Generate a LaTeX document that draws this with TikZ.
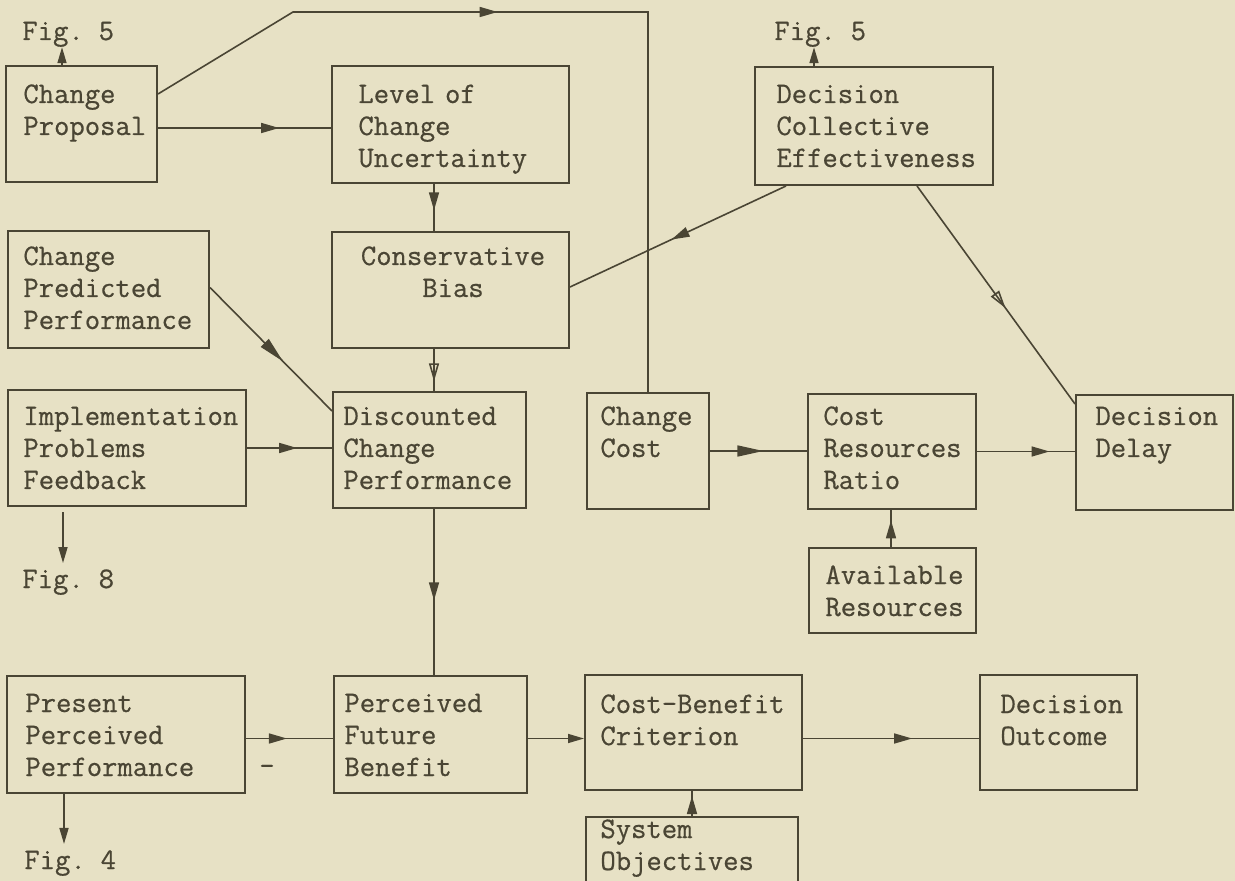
\documentclass[tikz,border=0pt]{standalone}
\usepackage{fontspec}
\newfontfamily\typer{Latin Modern Mono}[FakeBold=0.6]
\usetikzlibrary{arrows.meta,decorations.markings,fit,calc}
\definecolor{paper}{HTML}{E7E1C5}
\definecolor{ink}{HTML}{4A4534}
\tikzset{
  box/.style={draw=ink, line width=1pt, inner sep=0pt},
  lbl/.style={text=ink, font=\typer\fontsize{14.9}{16}\selectfont, inner sep=0pt,
              text width=130pt, align=left, anchor=base west},
  clbl/.style={lbl, align=center, anchor=base},
  wire/.style={draw=ink, color=ink, line width=0.8pt},
  tipat/.style={postaction={decorate,decoration={markings,
      mark=at position #1 with {\arrow{Triangle[length=9pt,width=5pt]}}}}},
  longtipat/.style={postaction={decorate,decoration={markings,
      mark=at position #1 with {\arrow{Triangle[length=13pt,width=5.5pt]}}}}},
  opentipat/.style={postaction={decorate,decoration={markings,
      mark=at position #1 with {\arrow{Triangle[open,length=9pt,width=5pt]}}}}},
  tipend/.style={-{Triangle[length=8pt,width=4.5pt]}},
}
\begin{document}
\begin{tikzpicture}[x=0.5pt,y=-0.5pt]
\fill[paper] (0,0) rectangle (1235,881);
\useasboundingbox (0,0) rectangle (1235,881);
\clip (0,0) rectangle (1235,881);

% ---- blocks ----
\node[box, fit={(6,66)(157,182)}] (cp) {};
\node[box, fit={(332,66)(569,183)}] (lev) {};
\node[box, fit={(755,67)(993,185)}] (dce) {};
\node[box, fit={(8,231)(209,348)}] (cpred) {};
\node[box, fit={(332,232)(569,348)}] (cons) {};
\node[box, fit={(8,390)(246,506)}] (impl) {};
\node[box, fit={(333,392)(526,508)}] (disc) {};
\node[box, fit={(587,393)(709,509)}] (cc) {};
\node[box, fit={(808,394)(976,509)}] (crr) {};
\node[box, fit={(1076,395)(1233,510)}] (dd) {};
\node[box, fit={(809,548)(976,633)}] (avail) {};
\node[box, fit={(7,676)(245,793)}] (ppp) {};
\node[box, fit={(334,676)(527,793)}] (pfb) {};
\node[box, fit={(585,675)(802,790)}] (cbc) {};
\node[box, fit={(980,675)(1137,790)}] (dout) {};
\node[box, fit={(586,817)(798,905)}] (sysobj) {};

% ---- block texts ----
\node[lbl] (tcp) at (23,103) {Change\\Proposal};
\node[lbl] (tlev) at (358,103) {Level of\\Change\\Uncertainty};
\node[lbl] (tdce) at (776,103) {Decision\\Collective\\Effectiveness};
\node[lbl] (tcpred) at (23,265) {Change\\Predicted\\Performance};
\node[clbl] (tcons) at (453,265) {Conservative\\Bias};
\node[lbl] (timpl) at (23,425) {Implementation\\Problems\\Feedback};
\node[lbl] (tdisc) at (343,425) {Discounted\\Change\\Performance};
\node[lbl] (tcc) at (600,425) {Change\\Cost};
\node[lbl] (tcrr) at (823,425) {Cost\\Resources\\Ratio};
\node[lbl] (tdd) at (1095,425) {Decision\\Delay};
\node[lbl] (tavail) at (825,584) {Available\\Resources};
\node[lbl] (tppp) at (25,712) {Present\\Perceived\\Performance};
\node[lbl] (tpfb) at (344,712) {Perceived\\Future\\Benefit};
\node[lbl] (tcbc) at (600,713) {Cost-Benefit\\Criterion};
\node[lbl] (tdout) at (1000,713) {Decision\\Outcome};
\node[lbl] (tsys) at (600,838) {System\\Objectives};

% ---- figure references ----
\node[lbl] (f5a) at (22,40) {Fig. 5};
\node[lbl] (f5b) at (774,40) {Fig. 5};
\node[lbl] (f8) at (22,588) {Fig. 8};
\node[lbl] (f4) at (24,869) {Fig. 4};
\node[clbl] (minus) at (267,775) {-};

% ---- connectors ----
\coordinate (cpup) at ($(cp.north west)+(57,0)$);
\draw[wire,tipend] (cpup) -- (cpup |- f5a.south);

\coordinate (cpr) at ($(cp.east)+(0,4)$);
\draw[wire,tipat=0.7] (cpr) -- (cpr -| lev.west);

\coordinate (cptop) at ($(cp.north east)+(0,29)$);
\coordinate (bendA) at (293,12);
\draw[wire,tipat=0.406] (cptop) -- (bendA) -- (cc.north |- bendA) -- (cc.north);

\coordinate (levd) at ($(lev.south west)+(103,0)$);
\draw[wire,tipat=0.56] (levd) -- (levd |- cons.north);

\coordinate (consd) at ($(cons.south west)+(103,0)$);
\draw[wire,opentipat=0.77] (consd) -- (consd |- disc.north);

\coordinate (dcel) at ($(dce.south west)+(32,0)$);
\draw[wire,tipat=0.53] (dcel) -- ($(cons.east)+(0,-3)$);

\coordinate (dceup) at ($(dce.north west)+(60,0)$);
\draw[wire,tipend] (dceup) -- (dceup |- f5b.south);

\coordinate (dcer) at ($(dce.south west)+(163,0)$);
\draw[wire,opentipat=0.56] (dcer) -- ($(dd.north west)+(0,10)$);

\draw[wire,longtipat=0.6] ($(cpred.east)+(0,-2)$) -- ($(disc.north west)+(0,20)$);

\draw[wire,tipat=0.59] (impl.east) -- (impl.east -| disc.west);

\coordinate (impld) at ($(impl.south west)+(56,5)$);
\draw[wire,tipend,shorten >=3pt] (impld) -- (impld |- f8.north);

\coordinate (discd) at ($(disc.south west)+(102,0)$);
\draw[wire,tipat=0.55] (discd) -- (discd |- pfb.north);

\draw[wire,longtipat=0.55] (cc.east) -- (cc.east -| crr.west);
\draw[wire,tipat=0.74] (crr.east) -- (crr.east -| dd.west);

\coordinate (availu) at ($(avail.north west)+(83,0)$);
\draw[wire,tipat=0.72] (availu) -- (availu |- crr.south);

\coordinate (pppr) at ($(ppp.east)+(0,4)$);
\draw[wire,tipat=0.47] (pppr) -- (pppr -| pfb.west);

\coordinate (pppd) at ($(ppp.south west)+(58,0)$);
\draw[wire,tipend,shorten >=3pt] (pppd) -- (pppd |- f4.north);

\coordinate (pfbr) at ($(pfb.east)+(0,4)$);
\draw[wire,tipend] (pfbr) -- (pfbr -| cbc.west);

\coordinate (cbcr) at ($(cbc.east)+(0,6)$);
\draw[wire,tipat=0.62] (cbcr) -- (cbcr -| dout.west);

\coordinate (sysu) at ($(sysobj.north west)+(107,0)$);
\draw[wire,tipat=0.8] (sysu) -- (sysu |- cbc.south);
\end{tikzpicture}
\end{document}
